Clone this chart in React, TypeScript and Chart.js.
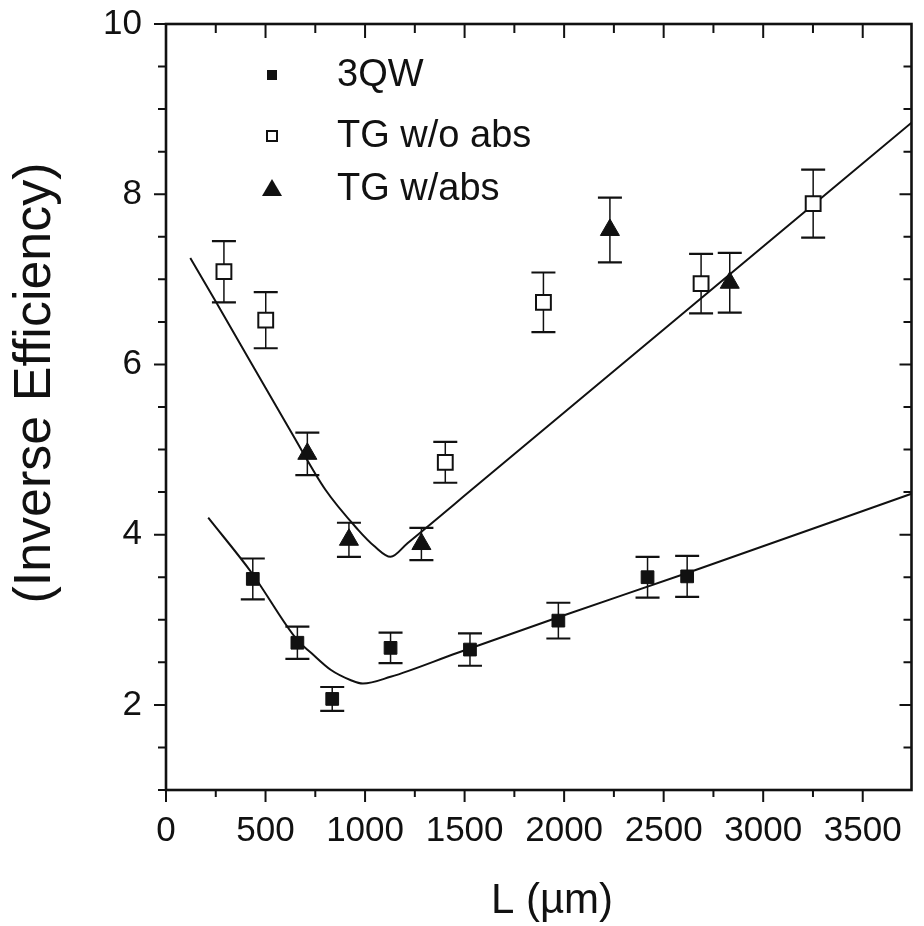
import React, { useEffect, useRef } from 'react';
import { Chart, registerables } from 'chart.js';

Chart.register(...registerables);

// ---- data (L in µm, inverse efficiency) ----
const qwL = [436, 660, 835, 1128, 1527, 1971, 2419, 2618];
const qwEff = [3.48, 2.73, 2.07, 2.67, 2.65, 2.99, 3.50, 3.51];
const qwErr = [0.24, 0.19, 0.14, 0.18, 0.19, 0.21, 0.24, 0.24];

const tgNoAbsL = [291, 501, 1403, 1896, 2688, 3251];
const tgNoAbsEff = [7.09, 6.52, 4.85, 6.73, 6.95, 7.89];
const tgNoAbsErr = [0.36, 0.33, 0.24, 0.35, 0.35, 0.40];

const tgAbsL = [710, 919, 1283, 2230, 2832];
const tgAbsEff = [4.95, 3.94, 3.89, 7.58, 6.96];
const tgAbsErr = [0.25, 0.20, 0.19, 0.38, 0.35];

const qwFitL = [212, 431, 660, 730, 829, 929, 989, 1128, 1462, 1971, 2618, 3745];
const qwFitEff = [4.20, 3.55, 2.76, 2.61, 2.41, 2.29, 2.25, 2.33, 2.61, 3.03, 3.55, 4.48];

const tgFitL = [122, 252, 630, 800, 964, 1049, 1128, 1213, 1562, 2500, 3745];
const tgFitEff = [7.25, 6.73, 5.20, 4.53, 4.06, 3.86, 3.74, 3.90, 4.58, 6.41, 8.84];

const seriesLabels = ['3QW', 'TG w/o abs', 'TG w/abs'];
const xTickValues = [0, 500, 1000, 1500, 2000, 2500, 3000, 3500];
const yTickValues = [2, 4, 6, 8, 10];
const xMin = 0;
const xMax = 3745;
const yMin = 1;
const yMax = 10;
const xMinorStep = 250;
const yMinorStep = 0.5;
const xTitle = 'L (\u00B5m)';
const yTitle = '(Inverse Efficiency)';

const FONT = "'Liberation Sans', Arial, Helvetica, sans-serif";
const INK = '#111';

const pts = (xs: number[], ys: number[]) => xs.map((x, i) => ({ x, y: ys[i] }));

const errorBarPlugin = {
  id: 'errorBars',
  beforeDatasetsDraw(chart: any) {
    const { ctx } = chart;
    const yScale = chart.scales.y;
    ctx.save();
    ctx.strokeStyle = INK;
    chart.data.datasets.forEach((ds: any, i: number) => {
      if (!ds.errors) return;
      const meta = chart.getDatasetMeta(i);
      meta.data.forEach((el: any, j: number) => {
        const v = ds.data[j].y;
        const e = ds.errors[j];
        const yt = yScale.getPixelForValue(v + e);
        const yb = yScale.getPixelForValue(v - e);
        const x = el.x;
        ctx.lineWidth = 1.5;
        ctx.beginPath();
        ctx.moveTo(x, yt);
        ctx.lineTo(x, yb);
        ctx.stroke();
        ctx.lineWidth = 2.2;
        ctx.beginPath();
        ctx.moveTo(x - 12, yt);
        ctx.lineTo(x + 12, yt);
        ctx.moveTo(x - 12, yb);
        ctx.lineTo(x + 12, yb);
        ctx.stroke();
      });
    });
    ctx.restore();
  },
};

const framePlugin = {
  id: 'frame',
  afterDraw(chart: any) {
    const { ctx, chartArea } = chart;
    const { left, right, top, bottom } = chartArea;
    const xs = chart.scales.x;
    const ys = chart.scales.y;
    ctx.save();
    ctx.strokeStyle = INK;
    ctx.lineWidth = 2.6;
    ctx.strokeRect(left, top, right - left, bottom - top);
    ctx.lineWidth = 2;
    ctx.beginPath();
    for (let v = xMin; v <= xMax + 1e-6; v += xMinorStep) {
      const major = xTickValues.includes(v);
      const len = major ? 12 : 7;
      const px = xs.getPixelForValue(v);
      ctx.moveTo(px, bottom);
      ctx.lineTo(px, bottom + len);
      ctx.moveTo(px, top);
      ctx.lineTo(px, top + len + 2);
    }
    for (let v = yMin; v <= yMax + 1e-6; v += yMinorStep) {
      const major = yTickValues.includes(v);
      const len = major ? 12 : 8;
      const py = ys.getPixelForValue(v);
      ctx.moveTo(left - len, py);
      ctx.lineTo(left, py);
      ctx.moveTo(right, py);
      ctx.lineTo(right - len, py);
    }
    ctx.stroke();

    // axis titles
    ctx.fillStyle = INK;
    ctx.font = `52px ${FONT}`;
    ctx.textAlign = 'center';
    ctx.textBaseline = 'alphabetic';
    ctx.save();
    ctx.translate(50, 383);
    ctx.rotate(-Math.PI / 2);
    ctx.fillText(yTitle, 0, 0);
    ctx.restore();
    ctx.font = `42px ${FONT}`;
    ctx.fillText(xTitle, 552, 913);
    ctx.restore();
  },
};

const legendPlugin = {
  id: 'customLegend',
  afterDraw(chart: any) {
    const { ctx } = chart;
    const rows = [75, 136, 189];
    const sx = 272;
    ctx.save();
    ctx.fillStyle = INK;
    ctx.strokeStyle = INK;
    // filled square
    ctx.fillRect(sx - 5, rows[0] - 5, 10, 10);
    // open square
    ctx.lineWidth = 2;
    ctx.fillStyle = '#fff';
    ctx.fillRect(sx - 5, rows[1] - 5, 10, 10);
    ctx.strokeRect(sx - 5, rows[1] - 5, 10, 10);
    // triangle
    ctx.fillStyle = INK;
    ctx.beginPath();
    ctx.moveTo(sx, rows[2] - 10);
    ctx.lineTo(sx + 10, rows[2] + 7);
    ctx.lineTo(sx - 10, rows[2] + 7);
    ctx.closePath();
    ctx.fill();
    ctx.font = `38px ${FONT}`;
    ctx.textAlign = 'left';
    ctx.textBaseline = 'middle';
    seriesLabels.forEach((t, i) => ctx.fillText(t, 337, rows[i] + 1));
    ctx.restore();
  },
};

export default function App() {
  const ref = useRef<HTMLCanvasElement>(null);

  useEffect(() => {
    const canvas = ref.current;
    if (!canvas) return;
    const tickFont = { family: FONT, size: 35 };
    const chart = new Chart(canvas, {
      type: 'scatter',
      data: {
        datasets: [
          {
            label: seriesLabels[0],
            data: pts(qwL, qwEff),
            errors: qwErr,
            pointStyle: 'rect',
            pointRadius: 9,
            pointHoverRadius: 9,
            backgroundColor: INK,
            borderColor: INK,
            borderWidth: 1,
            showLine: false,
          } as any,
          {
            label: seriesLabels[1],
            data: pts(tgNoAbsL, tgNoAbsEff),
            errors: tgNoAbsErr,
            pointStyle: 'rect',
            pointRadius: 10.5,
            pointHoverRadius: 10.5,
            backgroundColor: '#fff',
            borderColor: INK,
            borderWidth: 2,
            showLine: false,
          } as any,
          {
            label: seriesLabels[2],
            data: pts(tgAbsL, tgAbsEff),
            errors: tgAbsErr,
            pointStyle: 'triangle',
            pointRadius: 11,
            pointHoverRadius: 11,
            backgroundColor: INK,
            borderColor: INK,
            borderWidth: 1,
            showLine: false,
          } as any,
          {
            label: '3QW fit',
            data: pts(qwFitL, qwFitEff),
            showLine: true,
            pointRadius: 0,
            borderColor: INK,
            borderWidth: 2,
            cubicInterpolationMode: 'monotone',
            fill: false,
          } as any,
          {
            label: 'TG fit',
            data: pts(tgFitL, tgFitEff),
            showLine: true,
            pointRadius: 0,
            borderColor: INK,
            borderWidth: 2,
            cubicInterpolationMode: 'monotone',
            fill: false,
          } as any,
        ],
      },
      options: {
        responsive: false,
        animation: false,
        devicePixelRatio: 1,
        layout: { padding: { top: 24, right: 6, left: 0, bottom: 0 } },
        plugins: {
          legend: { display: false },
          tooltip: { enabled: false },
        },
        scales: {
          x: {
            type: 'linear',
            position: 'bottom',
            min: xMin,
            max: xMax,
            grid: { display: false, drawTicks: false },
            border: { display: false },
            afterBuildTicks: (s: any) => {
              s.ticks = xTickValues.map((v) => ({ value: v }));
            },
            afterFit: (s: any) => {
              s.height = 136;
              s.paddingLeft = 0;
              s.paddingRight = 0;
              s.paddingTop = 0;
              s.paddingBottom = 0;
            },
            ticks: {
              autoSkip: false,
              maxRotation: 0,
              font: tickFont,
              color: INK,
              padding: 20,
              callback: (v: any) => String(v),
            },
          },
          y: {
            type: 'linear',
            position: 'left',
            min: yMin,
            max: yMax,
            grid: { display: false, drawTicks: false },
            border: { display: false },
            afterBuildTicks: (s: any) => {
              s.ticks = yTickValues.map((v) => ({ value: v }));
            },
            afterFit: (s: any) => {
              s.width = 166;
              s.paddingLeft = 0;
              s.paddingRight = 0;
              s.paddingTop = 0;
              s.paddingBottom = 0;
            },
            ticks: {
              font: tickFont,
              color: INK,
              padding: 24,
              callback: (v: any) => String(v),
            },
          },
        },
      } as any,
      plugins: [errorBarPlugin, framePlugin, legendPlugin],
    });
    return () => chart.destroy();
  }, []);

  return (
    <div style={{ position: 'absolute', left: 0, top: 0, width: 924, height: 926, background: '#fff' }}>
      <canvas ref={ref} width={924} height={926} style={{ display: 'block' }} />
    </div>
  );
}
